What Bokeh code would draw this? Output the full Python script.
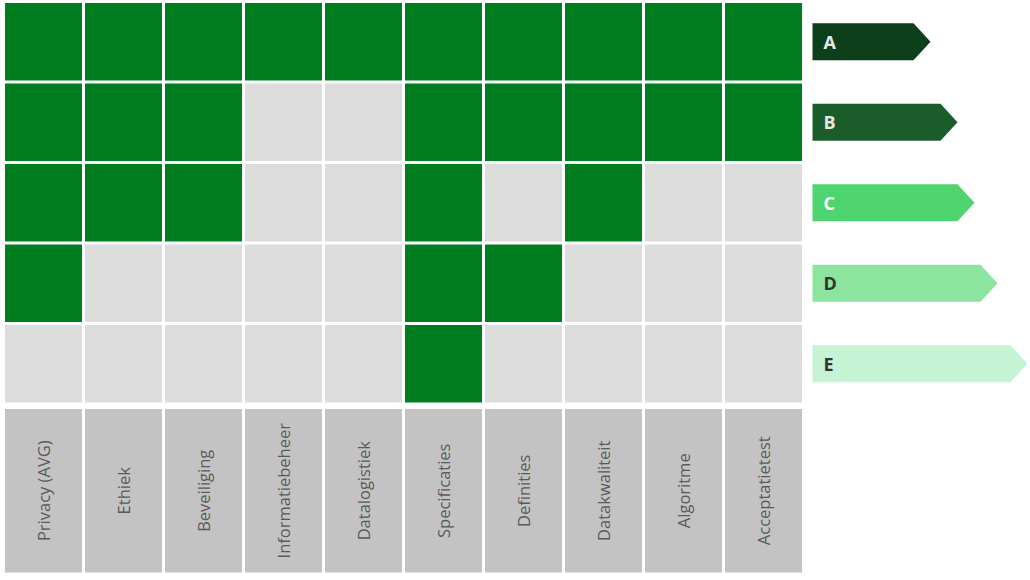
import math
from bokeh.plotting import figure
from bokeh.models import Range1d
from bokeh.core.properties import value
from bokeh.embed import file_html
from bokeh.resources import INLINE

# ---- data ----
categories = ["Privacy (AVG)", "Ethiek", "Beveiliging", "Informatiebeheer", "Datalogistiek",
              "Specificaties", "Definities", "Datakwaliteit", "Algoritme", "Acceptatietest"]
levels = ["A", "B", "C", "D", "E"]
# 1 = green (met), 0 = grey, one list per level (row)
row_A = [1, 1, 1, 1, 1, 1, 1, 1, 1, 1]
row_B = [1, 1, 1, 0, 0, 1, 1, 1, 1, 1]
row_C = [1, 1, 1, 0, 0, 1, 0, 1, 0, 0]
row_D = [1, 0, 0, 0, 0, 1, 1, 0, 0, 0]
row_E = [0, 0, 0, 0, 0, 1, 0, 0, 0, 0]
rows = [row_A, row_B, row_C, row_D, row_E]

# ---- styling / layout ----
W, H = 1030, 580
X0, CW = 3, 80.0
Y0, RH = 1, 80.5
GAP = 3
GREEN = "#007d1f"
GREY = "#dcdcdc"
LABEL_GREY = "#c3c3c3"
arrow_colors = ["#0d3f1a", "#1a5c2a", "#4fd56f", "#8be59f", "#c6f3d3"]
arrow_text_colors = ["#e6e6e6", "#e6e6e6", "#ffffff", "#333333", "#333333"]
arrow_body_end = [913, 940, 957, 980, 1010]
ARROW_X0, ARROW_H, TIP = 812, 37, 17

p = figure(width=W, height=H, x_range=Range1d(0, W), y_range=Range1d(0, H),
           output_backend="svg", toolbar_location=None,
           x_axis_location=None, y_axis_location=None, min_border=0)
p.outline_line_color = None
p.xgrid.visible = False
p.ygrid.visible = False
p.background_fill_color = "white"

def ytop(v):
    return H - v

# cells
xs, ys, cols = [], [], []
for r, row in enumerate(rows):
    for c, v in enumerate(row):
        xs.append(X0 + (c + 0.5) * CW)
        ys.append(ytop(Y0 + (r + 0.5) * RH))
        cols.append(GREEN if v else GREY)
p.rect(x=xs, y=ys, width=CW - GAP, height=RH - GAP, fill_color=cols, line_color=None)

# label row
lab_top = Y0 + 5 * RH + GAP + 2
lab_bot = 572
lab_cy = (lab_top + lab_bot) / 2
lx = [X0 + (c + 0.5) * CW for c in range(len(categories))]
p.rect(x=lx, y=[ytop(lab_cy)] * len(categories), width=CW - GAP, height=lab_bot - lab_top,
       fill_color=LABEL_GREY, line_color=None)
p.text(x=lx, y=[ytop(lab_cy)] * len(categories), text=categories, angle=math.pi / 2,
       text_align="center", text_baseline="middle", text_font=value("Open Sans"),
       text_font_size="16.5px", text_color="#5a5a5a")

# level arrows
pxs, pys = [], []
for r, lv in enumerate(levels):
    cy = ytop(Y0 + (r + 0.5) * RH)
    x1 = arrow_body_end[r]
    pxs.append([ARROW_X0, x1, x1 + TIP, x1, ARROW_X0])
    pys.append([cy + ARROW_H / 2, cy + ARROW_H / 2, cy, cy - ARROW_H / 2, cy - ARROW_H / 2])
p.patches(xs=pxs, ys=pys, fill_color=arrow_colors, line_color=None)
p.text(x=[ARROW_X0 + 11] * len(levels),
       y=[ytop(Y0 + (r + 0.5) * RH) for r in range(len(levels))],
       text=levels, text_align="left", text_baseline="middle",
       text_font=value("Open Sans"), text_font_size="18px", text_font_style="bold",
       text_color=arrow_text_colors)

open("out.html", "w").write(file_html(p, INLINE))
